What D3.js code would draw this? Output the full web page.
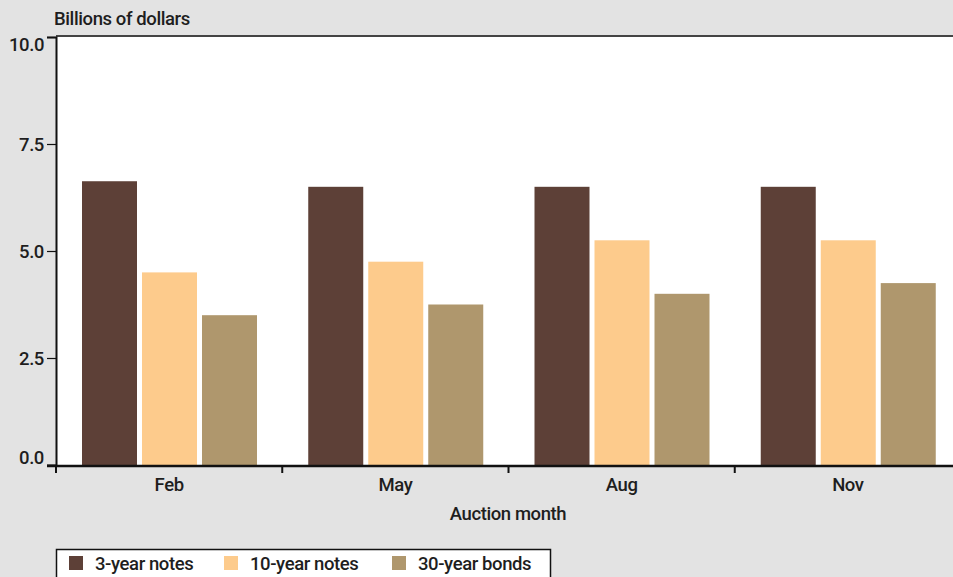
<!DOCTYPE html>
<html>
<head>
<meta charset="utf-8">
<script src="https://cdn.jsdelivr.net/npm/d3@7"></script>
<style>
  html, body { margin: 0; padding: 0; background: #e3e3e3; }
  svg { display: block; }
  text { font-family: "Roboto", "Liberation Sans", sans-serif; font-weight: 500; fill: #1e1e1e; letter-spacing: -0.4px; }
</style>
</head>
<body>
<svg id="chart" width="953" height="577"></svg>
<script>
// Auction sizes by month, billions of dollars
const months = ["Feb", "May", "Aug", "Nov"];
const seriesNames = ["3-year notes", "10-year notes", "30-year bonds"];
const threeYear = [6.63, 6.5, 6.5, 6.5];
const tenYear = [4.5, 4.75, 5.25, 5.25];
const thirtyYear = [3.5, 3.75, 4.0, 4.25];
const yTicks = [0, 2.5, 5, 7.5, 10];
const colors = ["#5d4037", "#fdcb8c", "#af976d"];

const seriesValues = [threeYear, tenYear, thirtyYear];

const svg = d3.select("#chart");
const W = 953, H = 577;
const margin = { left: 56, top: 37, bottom: 465, right: 961 };
const FS = "18.5px";

svg.append("rect").attr("width", W).attr("height", H).attr("fill", "#e3e3e3");

const x0 = d3.scaleBand().domain(months).range([margin.left, margin.right]).padding(0);
// three bars per month, 55px wide with 5px gaps, centred in the month band
const x1 = d3.scaleBand().domain(seriesNames)
  .range([26, 201])
  .paddingInner(5 / 60)
  .paddingOuter(0);
const y = d3.scaleLinear().domain([0, 10]).range([margin.bottom, margin.top]);

// plot area
svg.append("rect")
  .attr("x", margin.left).attr("y", margin.top)
  .attr("width", W - margin.left).attr("height", margin.bottom - margin.top)
  .attr("fill", "#ffffff");

// top border
svg.append("line")
  .attr("x1", margin.left).attr("x2", W)
  .attr("y1", margin.top - 1).attr("y2", margin.top - 1)
  .attr("stroke", "#444").attr("stroke-width", 2);

// bars
const groups = svg.append("g").selectAll("g")
  .data(months)
  .join("g")
  .attr("transform", d => `translate(${x0(d)},0)`);

groups.selectAll("rect")
  .data((m, i) => seriesNames.map((s, j) => ({ s, v: seriesValues[j][i], c: colors[j] })))
  .join("rect")
  .attr("x", d => x1(d.s))
  .attr("width", x1.bandwidth())
  .attr("y", d => y(d.v))
  .attr("height", d => y(0) - y(d.v))
  .attr("fill", d => d.c);

// y axis
const yAxis = d3.axisLeft(y).tickValues(yTicks).tickFormat(d3.format(".1f")).tickSize(9).tickPadding(3);
const gy = svg.append("g").attr("transform", `translate(${margin.left},0)`).call(yAxis);
gy.select(".domain").attr("stroke", "#111").attr("stroke-width", 2);
gy.selectAll(".tick line").attr("stroke", "#111").attr("stroke-width", 1.2);
gy.selectAll(".tick text")
  .style("font-size", FS)
  .attr("fill", "#1e1e1e")
  .attr("dy", d => d === 10 ? "0.75em" : d === 0 ? "-0.1em" : "0.35em");

// x axis: ticks at band boundaries, labels centred in bands
const gx = svg.append("g");
gx.append("line")
  .attr("x1", margin.left - 9).attr("x2", W)
  .attr("y1", margin.bottom + 1).attr("y2", margin.bottom + 1)
  .attr("stroke", "#111").attr("stroke-width", 2.5);
gx.selectAll(".xtick")
  .data(months)
  .join("line")
  .attr("class", "xtick")
  .attr("x1", d => x0(d)).attr("x2", d => x0(d))
  .attr("y1", margin.bottom).attr("y2", margin.bottom + 8)
  .attr("stroke", "#111").attr("stroke-width", 2);
gx.selectAll(".xlabel")
  .data(months)
  .join("text")
  .attr("class", "xlabel")
  .attr("x", d => x0(d) + x0.bandwidth() / 2)
  .attr("y", 491)
  .attr("text-anchor", "middle")
  .style("font-size", FS)
  .text(d => d);

// axis titles
svg.append("text")
  .attr("x", 54).attr("y", 25)
  .style("font-size", FS)
  .text("Billions of dollars");
svg.append("text")
  .attr("x", 508).attr("y", 520)
  .attr("text-anchor", "middle")
  .style("font-size", FS)
  .text("Auction month");

// legend
const legend = svg.append("g");
legend.append("rect")
  .attr("x", 56.5).attr("y", 549.5)
  .attr("width", 494).attr("height", 40)
  .attr("fill", "#ffffff").attr("stroke", "#111").attr("stroke-width", 1.5);
const legendX = [69, 224, 392];
const items = legend.selectAll(".item")
  .data(seriesNames)
  .join("g")
  .attr("class", "item")
  .attr("transform", (d, i) => `translate(${legendX[i]},556)`);
items.append("rect")
  .attr("width", 14).attr("height", 14)
  .attr("fill", (d, i) => colors[i]);
items.append("text")
  .attr("x", 26).attr("y", 14)
  .style("font-size", FS)
  .text(d => d);
</script>
</body>
</html>
